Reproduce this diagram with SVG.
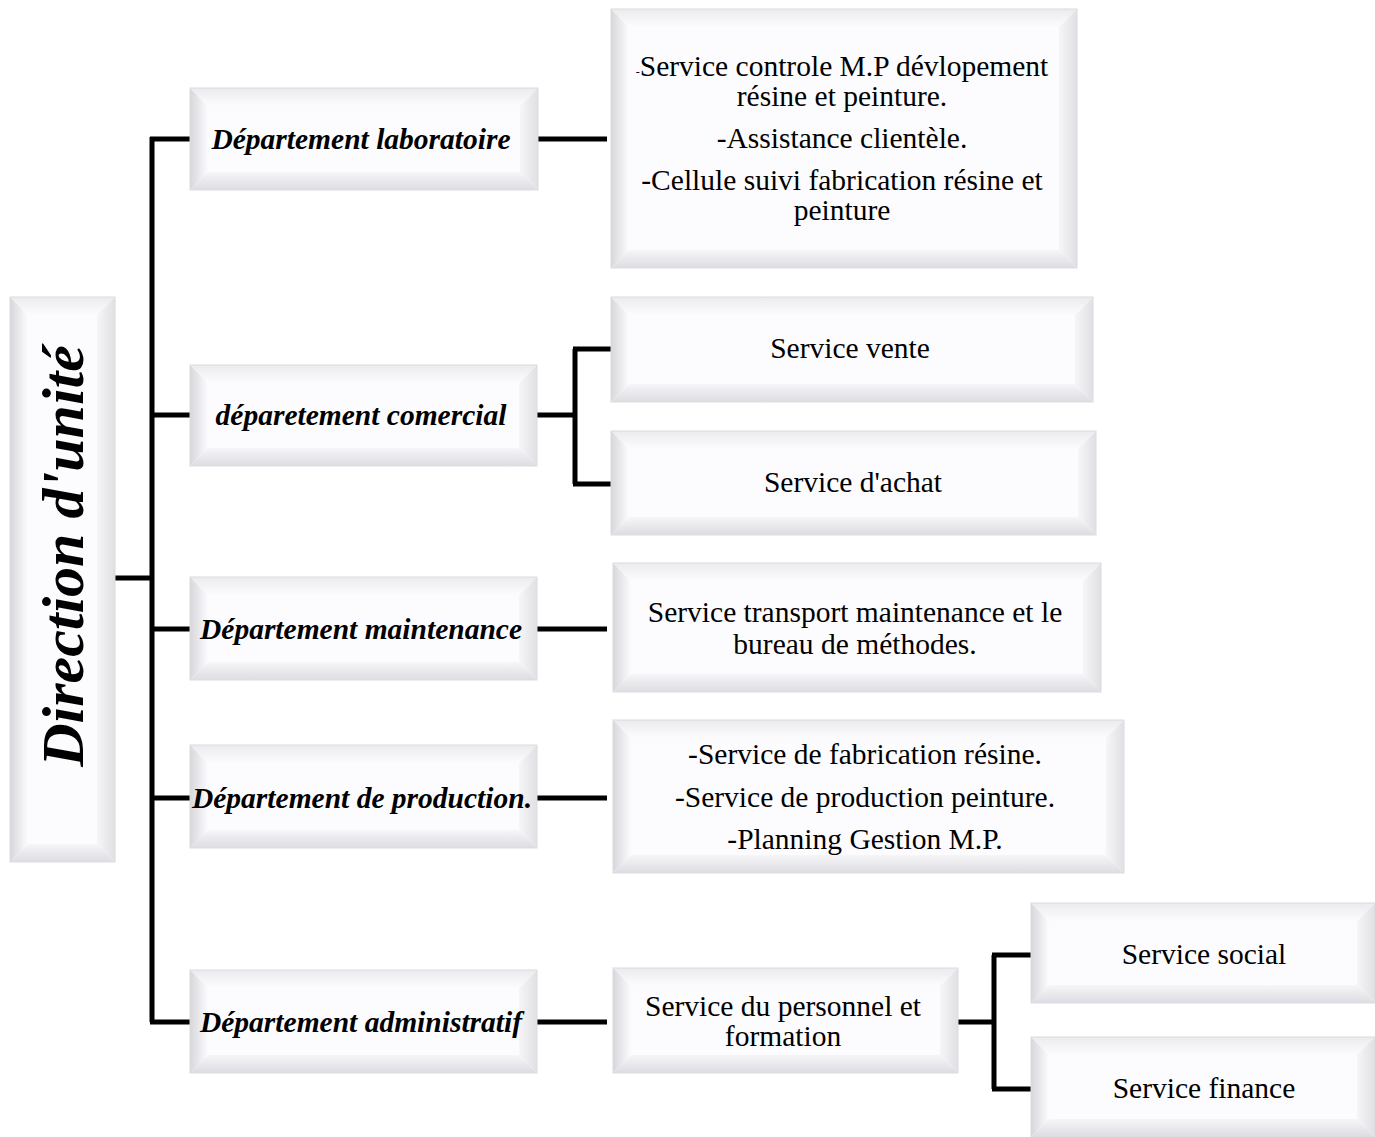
<svg xmlns="http://www.w3.org/2000/svg" width="1375" height="1137" viewBox="0 0 1375 1137">
<defs>
<linearGradient id="gT" x1="0" y1="0" x2="0" y2="1"><stop offset="0" stop-color="#ebebee"/><stop offset="1" stop-color="#fcfcfe"/></linearGradient>
<linearGradient id="gL" x1="0" y1="0" x2="1" y2="0"><stop offset="0" stop-color="#d6d6dc"/><stop offset="1" stop-color="#fcfcfe"/></linearGradient>
<linearGradient id="gR" x1="0" y1="0" x2="1" y2="0"><stop offset="0" stop-color="#f6f6f8"/><stop offset="1" stop-color="#e0e0e4"/></linearGradient>
<linearGradient id="gB" x1="0" y1="0" x2="0" y2="1"><stop offset="0" stop-color="#f6f6f8"/><stop offset="1" stop-color="#dcdce2"/></linearGradient>
</defs>
<style>
.t{fill:url(#gT)} .l{fill:url(#gL)} .r{fill:url(#gR)} .b{fill:url(#gB)}
.f{fill:#fcfcfe}
.o{fill:none;stroke:#dcdce0;stroke-width:1}
.dept{font-family:"Liberation Serif",serif;font-weight:bold;font-style:italic;font-size:29.5px;text-anchor:middle;fill:#000}
.svc{font-family:"Liberation Serif",serif;font-size:29.5px;text-anchor:middle;fill:#000}
.dir{font-family:"Liberation Serif",serif;font-weight:bold;font-style:italic;font-size:60px;text-anchor:middle;fill:#000}
.c{fill:none;stroke:#000;stroke-width:5}
</style>
<rect width="1375" height="1137" fill="#fff"/>

<g id="connectors">
<path class="c" d="M115 578H152M152 137V1022M150 139H190M150 415H190M150 629H190M150 798H190M150 1022H190"/>
<path class="c" d="M538 139H607"/>
<path class="c" d="M537 415H575M575 349V484M573 349H611M573 484H611"/>
<path class="c" d="M537 629H607"/>
<path class="c" d="M537 798H607"/>
<path class="c" d="M537 1022H607"/>
<path class="c" d="M958 1022H994M994 955V1089M992 955H1031M992 1089H1031"/>
</g>

<g id="direction">
<polygon class="t" points="10,297 115,297 97,315 28,315"/>
<polygon class="l" points="10,297 28,315 28,844 10,862"/>
<polygon class="r" points="115,297 115,862 97,844 97,315"/>
<polygon class="b" points="10,862 115,862 97,844 28,844"/>
<rect class="f" x="28" y="315" width="69" height="529"/>
<rect class="o" x="10" y="297" width="105" height="565"/>
<text class="dir" transform="translate(83,556) rotate(-90)">Direction d'unité</text>
</g>

<g id="dep-labo">
<polygon class="t" points="190,88 538,88 520,106 208,106"/>
<polygon class="l" points="190,88 208,106 208,172 190,190"/>
<polygon class="r" points="538,88 538,190 520,172 520,106"/>
<polygon class="b" points="190,190 538,190 520,172 208,172"/>
<rect class="f" x="208" y="106" width="312" height="66"/>
<rect class="o" x="190" y="88" width="348" height="102"/>
<text class="dept" x="361" y="149">Département laboratoire</text>
</g>

<g id="dep-com">
<polygon class="t" points="190,365 537,365 519,383 208,383"/>
<polygon class="l" points="190,365 208,383 208,448 190,466"/>
<polygon class="r" points="537,365 537,466 519,448 519,383"/>
<polygon class="b" points="190,466 537,466 519,448 208,448"/>
<rect class="f" x="208" y="383" width="311" height="65"/>
<rect class="o" x="190" y="365" width="347" height="101"/>
<text class="dept" x="361" y="425">déparetement comercial</text>
</g>

<g id="dep-maint">
<polygon class="t" points="190,577 537,577 519,595 208,595"/>
<polygon class="l" points="190,577 208,595 208,662 190,680"/>
<polygon class="r" points="537,577 537,680 519,662 519,595"/>
<polygon class="b" points="190,680 537,680 519,662 208,662"/>
<rect class="f" x="208" y="595" width="311" height="67"/>
<rect class="o" x="190" y="577" width="347" height="103"/>
<text class="dept" x="361" y="639">Département maintenance</text>
</g>

<g id="dep-prod">
<polygon class="t" points="190,745 537,745 519,763 208,763"/>
<polygon class="l" points="190,745 208,763 208,830 190,848"/>
<polygon class="r" points="537,745 537,848 519,830 519,763"/>
<polygon class="b" points="190,848 537,848 519,830 208,830"/>
<rect class="f" x="208" y="763" width="311" height="67"/>
<rect class="o" x="190" y="745" width="347" height="103"/>
<text class="dept" x="362" y="808">Département de production.</text>
</g>

<g id="dep-admin">
<polygon class="t" points="190,970 537,970 519,988 208,988"/>
<polygon class="l" points="190,970 208,988 208,1055 190,1073"/>
<polygon class="r" points="537,970 537,1073 519,1055 519,988"/>
<polygon class="b" points="190,1073 537,1073 519,1055 208,1055"/>
<rect class="f" x="208" y="988" width="311" height="67"/>
<rect class="o" x="190" y="970" width="347" height="103"/>
<text class="dept" x="361" y="1032">Département administratif</text>
</g>

<g id="svc-labo">
<polygon class="t" points="611,9 1077,9 1059,27 629,27"/>
<polygon class="l" points="611,9 629,27 629,250 611,268"/>
<polygon class="r" points="1077,9 1077,268 1059,250 1059,27"/>
<polygon class="b" points="611,268 1077,268 1059,250 629,250"/>
<rect class="f" x="629" y="27" width="430" height="223"/>
<rect class="o" x="611" y="9" width="466" height="259"/>
<text class="svc" x="842" y="76"><tspan font-size="12">-</tspan>Service controle M.P dévlopement</text>
<text class="svc" x="842" y="106">résine et peinture.</text>
<text class="svc" x="842" y="148">-Assistance clientèle.</text>
<text class="svc" x="842" y="190">-Cellule suivi fabrication résine et</text>
<text class="svc" x="842" y="220">peinture</text>
</g>

<g id="svc-vente">
<polygon class="t" points="611,297 1093,297 1075,315 629,315"/>
<polygon class="l" points="611,297 629,315 629,384 611,402"/>
<polygon class="r" points="1093,297 1093,402 1075,384 1075,315"/>
<polygon class="b" points="611,402 1093,402 1075,384 629,384"/>
<rect class="f" x="629" y="315" width="446" height="69"/>
<rect class="o" x="611" y="297" width="482" height="105"/>
<text class="svc" x="850" y="358">Service vente</text>
</g>

<g id="svc-achat">
<polygon class="t" points="611,431 1096,431 1078,449 629,449"/>
<polygon class="l" points="611,431 629,449 629,517 611,535"/>
<polygon class="r" points="1096,431 1096,535 1078,517 1078,449"/>
<polygon class="b" points="611,535 1096,535 1078,517 629,517"/>
<rect class="f" x="629" y="449" width="449" height="68"/>
<rect class="o" x="611" y="431" width="485" height="104"/>
<text class="svc" x="853" y="492">Service d'achat</text>
</g>

<g id="svc-maint">
<polygon class="t" points="613,563 1101,563 1083,581 631,581"/>
<polygon class="l" points="613,563 631,581 631,674 613,692"/>
<polygon class="r" points="1101,563 1101,692 1083,674 1083,581"/>
<polygon class="b" points="613,692 1101,692 1083,674 631,674"/>
<rect class="f" x="631" y="581" width="452" height="93"/>
<rect class="o" x="613" y="563" width="488" height="129"/>
<text class="svc" x="855" y="622">Service transport maintenance et le</text>
<text class="svc" x="855" y="654">bureau de méthodes.</text>
</g>

<g id="svc-prod">
<polygon class="t" points="613,720 1124,720 1106,738 631,738"/>
<polygon class="l" points="613,720 631,738 631,855 613,873"/>
<polygon class="r" points="1124,720 1124,873 1106,855 1106,738"/>
<polygon class="b" points="613,873 1124,873 1106,855 631,855"/>
<rect class="f" x="631" y="738" width="475" height="117"/>
<rect class="o" x="613" y="720" width="511" height="153"/>
<text class="svc" x="865" y="764">-Service de fabrication résine.</text>
<text class="svc" x="865" y="807">-Service de production peinture.</text>
<text class="svc" x="865" y="849">-Planning Gestion M.P.</text>
</g>

<g id="svc-personnel">
<polygon class="t" points="613,968 958,968 940,986 631,986"/>
<polygon class="l" points="613,968 631,986 631,1055 613,1073"/>
<polygon class="r" points="958,968 958,1073 940,1055 940,986"/>
<polygon class="b" points="613,1073 958,1073 940,1055 631,1055"/>
<rect class="f" x="631" y="986" width="309" height="69"/>
<rect class="o" x="613" y="968" width="345" height="105"/>
<text class="svc" x="783" y="1016">Service du personnel et</text>
<text class="svc" x="783" y="1046">formation</text>
</g>

<g id="svc-social">
<polygon class="t" points="1031,903 1375,903 1357,921 1049,921"/>
<polygon class="l" points="1031,903 1049,921 1049,985 1031,1003"/>
<polygon class="r" points="1375,903 1375,1003 1357,985 1357,921"/>
<polygon class="b" points="1031,1003 1375,1003 1357,985 1049,985"/>
<rect class="f" x="1049" y="921" width="308" height="64"/>
<rect class="o" x="1031" y="903" width="344" height="100"/>
<text class="svc" x="1204" y="964">Service social</text>
</g>

<g id="svc-finance">
<polygon class="t" points="1031,1037 1375,1037 1357,1055 1049,1055"/>
<polygon class="l" points="1031,1037 1049,1055 1049,1119 1031,1137"/>
<polygon class="r" points="1375,1037 1375,1137 1357,1119 1357,1055"/>
<polygon class="b" points="1031,1137 1375,1137 1357,1119 1049,1119"/>
<rect class="f" x="1049" y="1055" width="308" height="64"/>
<rect class="o" x="1031" y="1037" width="344" height="100"/>
<text class="svc" x="1204" y="1098">Service finance</text>
</g>
</svg>
